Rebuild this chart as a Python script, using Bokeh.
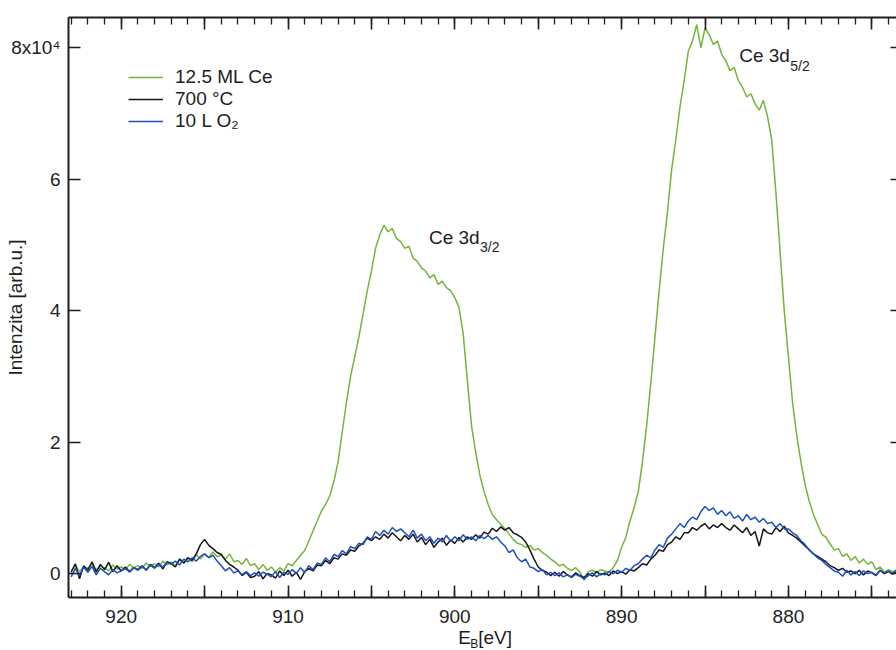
import numpy as np
from bokeh.plotting import figure
from bokeh.layouts import column
from bokeh.models import (Range1d, LinearAxis, FixedTicker, Legend, LegendItem,
                          Label, ColumnDataSource)
from bokeh.embed import file_html
from bokeh.resources import INLINE

# ---------------- data (intensity in units of 1000 counts) ----------------
E_START = 923.0   # binding energy of first sample [eV]
E_STEP = 0.25     # sampling step [eV], energies decrease

green_k = [  # 12.5 ML Ce
    0.5, 1.2, 0.3, 1.0,   0.8, 1.5, 0.6, 1.1,   0.9, 0.4, 1.3, 0.7,   1.0, 0.6, 1.4, 0.9,
    1.2, 0.8, 1.6, 1.1,   1.5, 1.0, 1.9, 1.3,   1.8, 1.2, 2.2, 1.6,   2.4, 1.8, 2.9, 2.2,
    3.0, 2.5, 3.3, 2.6,   2.8, 2.2, 3.0, 1.8,   2.0, 1.4, 2.3, 1.2,   1.5, 0.6, 1.4, 0.5,
    1.0, 0.2, 0.9, 0.4,   1.5, 1.2, 2.0, 2.8,   3.5, 5.0, 6.5, 8.0,   9.5, 10.5, 11.8, 14.0,
    17.0, 21.5, 26.0, 30.0,   33.0, 36.0, 39.5, 43.0,   46.0, 49.5, 51.5, 53.0,
    52.0, 52.5, 51.0, 50.5,   49.5, 49.8, 48.0, 47.5,   46.5, 46.0, 45.0, 45.5,
    44.0, 44.5, 43.5, 43.0,   42.0, 40.5, 36.5, 29.5,   22.5, 18.5, 15.0, 12.5,
    10.5, 9.0, 8.2, 7.5,   6.8, 6.0, 5.2, 4.6,   4.4, 4.0, 4.3, 3.6,   3.8, 3.2, 2.8, 2.2,
    1.8, 1.2, 1.4, 0.8,   0.5, 0.9, 0.2, -1.0,   0.3, 0.5, 0.2, 0.6,   0.4, 0.2, 0.9, 2.0,
    4.0, 5.5, 8.0, 10.0,   12.5, 17.0, 22.5, 29.0,   36.0, 43.0, 49.5, 55.0,
    61.5, 66.0, 71.0, 75.0,   79.5, 81.0, 83.5, 80.0,   83.0, 82.0, 80.5, 81.0,
    79.0, 78.0, 76.5, 77.0,   75.0, 74.0, 72.5, 73.0,   71.5, 70.5, 72.0, 69.5,
    66.0, 58.0, 49.0, 40.0,   33.0, 26.0, 21.0, 17.0,   13.5, 11.0, 9.0, 7.5,
    6.0, 5.5, 4.5, 3.6,   3.8, 2.6, 3.0, 2.0,   2.6, 1.6, 2.2, 1.4,   1.8, 0.6, 1.0, 0.2,
    0.6, 0.3, 0.5, 0.2,
]

black_k = [  # 700 °C
    0.2, 1.5, -0.8, 1.2,   0.5, 1.8, 0.2, 1.4,   0.6, 1.7, 0.3, 1.2,   0.4, 1.0, 0.3, 0.9,
    0.6, 1.2, 0.5, 1.4,   0.9, 1.6, 0.7, 1.8,   1.5, 1.0, 2.2, 1.6,   2.4, 2.0, 3.0, 4.4,
    5.2, 4.3, 3.8, 3.2,   2.9, 2.0, 1.4, 1.0,   0.5, -0.3, 0.2, -0.6,   -0.4, 0.3, -0.8, 0.0,
    -0.2, -0.7, 0.4, -0.3,   0.5, -0.4, 0.2, -0.9,   0.3, 0.8, 0.4, 1.3,   1.2, 2.0, 1.5, 2.4,
    2.2, 3.0, 2.8, 3.6,   3.4, 4.2, 4.6, 5.4,   5.0, 5.6, 5.2, 6.0,   5.4, 6.2, 5.6, 5.0,
    5.8, 5.2, 6.0, 4.8,   5.5, 4.4, 5.2, 4.0,   4.8, 5.4, 4.3, 5.1,   4.6, 5.5, 4.8, 5.6,
    5.2, 5.9, 5.4, 6.3,   6.0, 6.9, 6.4, 7.1,   6.6, 7.0, 6.2, 5.9,   5.5, 4.8, 3.6, 2.2,
    1.0, 0.5, 0.2, -0.3,   0.2, -0.4, 0.3, -0.2,   -0.5, 0.1, -0.3, -0.6,   0.0, -0.4, 0.3, -0.2,
    0.1, -0.3, 0.4, 0.0,   0.3, -0.1, 0.6, 0.4,   0.9, 1.5, 1.3, 2.2,   2.8, 3.6, 3.4, 4.4,
    4.8, 5.6, 5.2, 6.2,   6.2, 7.0, 6.6, 7.2,   7.6, 6.8, 7.4, 7.0,   7.6, 7.0, 6.6, 7.4,
    6.8, 6.2, 7.0, 5.8,   6.4, 4.2, 6.8, 6.2,   6.0, 7.0, 6.4, 7.2,   6.2, 5.8, 5.4, 4.8,
    4.2, 3.6, 3.0, 2.6,   2.2, 1.8, 1.2, 0.9,   0.5, 0.8, 0.2, 0.4,   0.0, 0.5, -0.2, 0.4,
    0.1, -0.3, 0.5, 0.0,   0.3, -0.1, 0.4, 0.0,
]

blue_k = [  # 10 L O2
    -0.5, 0.8, -0.3, 1.0,   0.2, 1.1, -0.2, 0.8,   0.3, -0.2, 0.6, 0.1,   0.4, 0.8, 0.2, 0.9,
    0.5, 1.1, 0.6, 1.3,   0.8, 1.4, 1.0, 1.7,   1.4, 1.9, 1.3, 2.2,   1.8, 2.4, 1.9, 2.6,
    3.0, 2.4, 2.8, 1.9,   1.2, 0.4, 0.9, 0.1,   0.4, -0.2, 0.3, -0.3,   0.1, -0.4, 0.2, -0.1,
    -0.5, 0.3, -0.6, 0.2,   -0.1, 0.6, 0.0, 0.9,   0.2, 1.2, 0.6, 1.6,   1.4, 2.4, 1.8, 2.9,
    2.6, 3.5, 3.0, 4.1,   3.8, 4.6, 4.4, 5.6,   5.2, 6.4, 5.8, 6.6,   6.0, 7.0, 6.4, 6.8,
    6.2, 5.6, 6.6, 5.4,   6.0, 5.0, 5.6, 4.6,   5.4, 4.8, 5.8, 4.9,   5.6, 5.0, 5.9, 5.2,
    5.6, 5.0, 5.8, 5.3,   5.8, 5.2, 5.6, 4.8,   4.2, 3.2, 3.6, 2.4,   1.8, 2.2, 1.0, 0.8,
    0.3, 0.6, -0.2, 0.2,   -0.3, 0.1, -0.5, -0.2,   -0.6, -0.1, -0.4, -0.8,   -0.3, 0.1, -0.5, 0.0,
    -0.2, 0.3, 0.0, 0.5,   0.2, 0.8, 0.5, 1.2,   1.5, 2.2, 2.8, 2.4,   3.6, 4.4, 4.0, 5.4,
    6.0, 6.8, 7.6, 7.0,   8.0, 8.6, 8.2, 9.4,   10.2, 9.6, 10.0, 9.0,   9.6, 8.8, 9.4, 8.4,
    8.8, 8.0, 9.0, 8.2,   8.6, 7.8, 8.4, 7.6,   7.8, 7.0, 7.6, 6.8,   6.8, 6.2, 5.8, 5.0,
    4.4, 3.6, 3.0, 2.4,   2.0, 1.4, 0.9, 0.4,   0.2, -0.4, 0.5, -0.2,   0.3, -0.3, 0.4, 0.0,
    0.2, -0.2, 0.5, 0.1,   0.4, 0.0, 0.6, 0.2,
]

series_labels = ["12.5 ML Ce", "700 °C", "10 L O₂"]

x_major = [875, 880, 885, 890, 895, 900, 905, 910, 915, 920]
x_minor = list(range(874, 924))
x_tick_text = {875: "", 880: "880", 885: "", 890: "890", 895: "", 900: "900",
               905: "", 910: "910", 915: "", 920: "920"}
y_major = [0, 20000, 40000, 60000, 80000]
y_tick_text = {0: "0", 20000: "2", 40000: "4", 60000: "6", 80000: "8x10⁴"}
y_title = "Intenzita [arb.u.]"

# ---------------- figure ----------------
FONT = "Liberation Sans"
FS = "19px"
TXT = "#1e1e1e"
GREEN = "#74b53a"
BLACK = "#161616"
BLUE = "#1f4fbf"

n = len(green_k)
energy = np.array([E_START - E_STEP * i for i in range(n)])
src = ColumnDataSource(dict(
    e=energy,
    green=np.array(green_k) * 1000.0,
    black=np.array(black_k[:n]) * 1000.0,
    blue=np.array(blue_k[:n]) * 1000.0,
))

xr = Range1d(923.16, 873.52)
p = figure(width=896, height=628, output_backend="svg", toolbar_location=None,
           x_range=xr, y_range=Range1d(-3640, 84600),
           x_axis_type=None, y_axis_type=None,
           min_border_left=68, min_border_right=0, min_border_top=17, min_border_bottom=31)
p.outline_line_alpha = 0
p.background_fill_color = "white"
p.border_fill_color = "white"


def style_axis(ax, ticker, labels=None, tick_len=12, minor_len=7):
    ax.ticker = ticker
    ax.axis_line_color = TXT
    ax.axis_line_width = 2
    ax.major_tick_in = tick_len
    ax.major_tick_out = 0
    ax.minor_tick_in = minor_len
    ax.minor_tick_out = 0
    ax.major_tick_line_color = TXT
    ax.major_tick_line_width = 1.6
    ax.minor_tick_line_color = TXT
    ax.minor_tick_line_width = 1.3
    ax.major_label_text_font = FONT
    ax.major_label_text_color = TXT
    if labels is None:
        ax.major_label_text_font_size = "0px"
        ax.major_label_standoff = 0
        ax.major_label_overrides = {t: "" for t in ticker.ticks}
    else:
        ax.major_label_text_font_size = FS
        ax.major_label_overrides = labels


bottom = LinearAxis()
style_axis(bottom, FixedTicker(ticks=x_major, minor_ticks=x_minor), x_tick_text)
bottom.major_label_standoff = 12
p.add_layout(bottom, "below")

top = LinearAxis()
style_axis(top, FixedTicker(ticks=x_major, minor_ticks=x_minor))
p.add_layout(top, "above")

left = LinearAxis()
style_axis(left, FixedTicker(ticks=y_major, minor_ticks=[]), y_tick_text)
left.major_label_standoff = 8
left.axis_label = y_title
left.axis_label_text_font = FONT
left.axis_label_text_font_size = FS
left.axis_label_text_font_style = "normal"
left.axis_label_text_color = TXT
left.axis_label_standoff = -18
p.add_layout(left, "left")

right = LinearAxis()
style_axis(right, FixedTicker(ticks=y_major, minor_ticks=[]), tick_len=6)
right.axis_line_alpha = 0
p.add_layout(right, "right")

g = p.line("e", "green", source=src, line_color=GREEN, line_width=1.5)
k = p.line("e", "black", source=src, line_color=BLACK, line_width=1.5)
b = p.line("e", "blue", source=src, line_color=BLUE, line_width=1.5)

legend = Legend(items=[LegendItem(label=series_labels[0], renderers=[g]),
                       LegendItem(label=series_labels[1], renderers=[k]),
                       LegendItem(label=series_labels[2], renderers=[b])],
                location=(60, 465))
legend.glyph_width = 35
legend.glyph_height = 22
legend.label_height = 22
legend.spacing = 0
legend.padding = 0
legend.margin = 0
legend.label_standoff = 12
legend.label_text_font = FONT
legend.label_text_font_size = FS
legend.label_text_color = TXT
legend.border_line_alpha = 0
legend.background_fill_alpha = 0
p.add_layout(legend)


def add_label(fig, x, y, text, size=FS, dx=0, dy=0):
    fig.add_layout(Label(x=x, y=y, x_offset=dx, y_offset=dy, text=text,
                         text_font=FONT, text_font_size=size, text_color=TXT,
                         text_align="left", text_baseline="middle"))


# peak annotations
add_label(p, 901.55, 51060, "Ce 3d")
add_label(p, 901.55, 51060, "3/2", size="14px", dx=51, dy=-9)
add_label(p, 882.95, 78750, "Ce 3d")
add_label(p, 882.95, 78750, "5/2", size="14px", dx=51, dy=-10)

# x-axis title strip (shares the x range of the main plot)
t = figure(width=896, height=22, output_backend="svg", toolbar_location=None,
           x_range=xr, y_range=Range1d(0, 22), x_axis_type=None, y_axis_type=None,
           min_border_left=68, min_border_right=0, min_border_top=0, min_border_bottom=0)
t.outline_line_alpha = 0
t.background_fill_color = "white"
t.border_fill_color = "white"
add_label(t, 899.8, 13, "E")
add_label(t, 899.8, 13, "B", size="12px", dx=12, dy=-6)
add_label(t, 899.8, 13, "[eV]", dx=20)

layout = column(p, t, spacing=0)
open("out.html", "w").write(file_html(layout, INLINE))
